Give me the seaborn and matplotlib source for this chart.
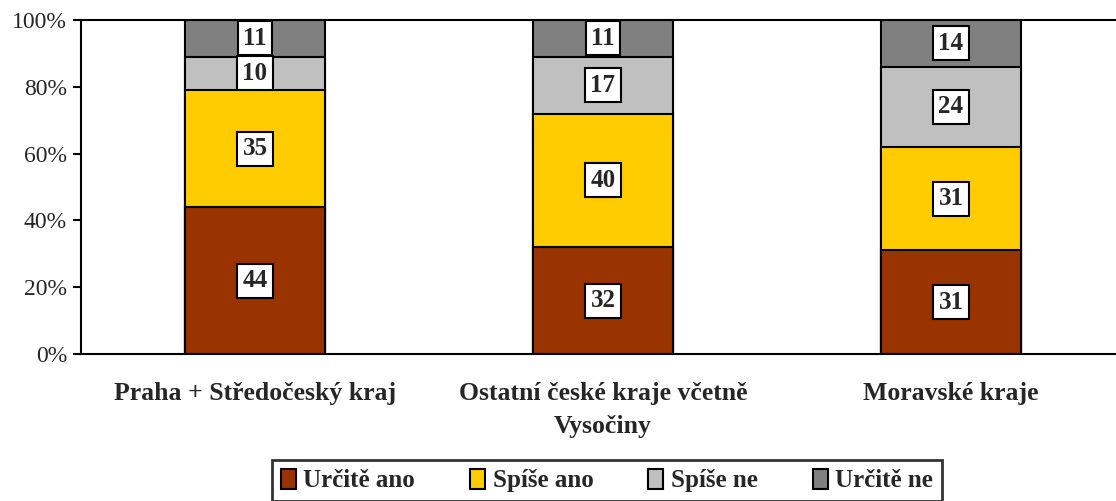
import pandas as pd
import seaborn as sns
import numpy as np
import matplotlib.pyplot as plt
from matplotlib.patches import Patch

# data
kraje = ['Praha + Středočeský kraj', 'Ostatní české kraje včetně\nVysočiny', 'Moravské kraje']
odpovedi = ['Určitě ano', 'Spíše ano', 'Spíše ne', 'Určitě ne']
urcite_ano = [44, 32, 31]
spise_ano = [35, 40, 31]
spise_ne = [10, 17, 24]
urcite_ne = [11, 11, 14]
barvy = ['#993300', '#FFCC00', '#C0C0C0', '#808080']

sns.set_style('white')
plt.rcParams['font.family'] = ['Liberation Serif', 'DejaVu Serif']

df = pd.DataFrame({'kraj': kraje, 'Určitě ano': urcite_ano, 'Spíše ano': spise_ano,
                   'Spíše ne': spise_ne, 'Určitě ne': urcite_ne})
cum = df[odpovedi].cumsum(axis=1)

fig = plt.figure(figsize=(11.16, 5.01), dpi=100)
ax = fig.add_axes([81 / 1116, 147 / 501, 1044 / 1116, 334 / 501])

# stacked bars drawn from the top layer down
for i in range(len(odpovedi) - 1, -1, -1):
    sns.barplot(x=df['kraj'], y=cum[odpovedi[i]], color=barvy[i], width=0.4,
                edgecolor='black', linewidth=1.5, saturation=1, ax=ax)

# value labels
for i, odp in enumerate(odpovedi):
    for j in range(len(kraje)):
        v = df[odp][j]
        y = cum[odp][j] - v / 2
        ax.text(j, y, str(v), ha='center', va='center', fontsize=18, fontweight='bold',
                bbox=dict(boxstyle='square,pad=0.22', fc='white', ec='black', lw=1.5))

ax.set_ylim(0, 100)
ax.set_xlim(-0.5, 2.5)
ax.set_yticks(range(0, 101, 20))
ax.set_yticklabels([f'{t}%' for t in range(0, 101, 20)], fontsize=17)
ax.set_xticks(range(len(kraje)))
ax.set_xticklabels(kraje, fontsize=18.5, fontweight='bold', linespacing=1.55)
ax.set_xticks([-0.5, 0.5, 1.5], minor=True)
ax.tick_params(axis='x', which='major', length=0, pad=20)
ax.tick_params(axis='x', which='minor', length=6, width=1.5, direction='out', color='black')
ax.tick_params(axis='y', length=6, width=1.5, direction='out', color='black', left=True, pad=4)
ax.set_xlabel('')
ax.set_ylabel('')
for s in ['left', 'bottom', 'top']:
    ax.spines[s].set_color('black')
    ax.spines[s].set_linewidth(1.5)
ax.spines['right'].set_visible(False)

handles = [Patch(facecolor=c, edgecolor='black', linewidth=1.5) for c in barvy]
leg = fig.legend(handles, odpovedi, loc='lower center', bbox_to_anchor=(0.544, 0.0), ncol=4,
                 frameon=True, fancybox=False, edgecolor='black', borderaxespad=0,
                 prop={'weight': 'bold', 'size': 18}, handlelength=0.6, handleheight=0.85,
                 handletextpad=0.3, columnspacing=2.2, borderpad=0.35)
leg.get_frame().set_linewidth(2)

fig.savefig('out.png', dpi=100)
